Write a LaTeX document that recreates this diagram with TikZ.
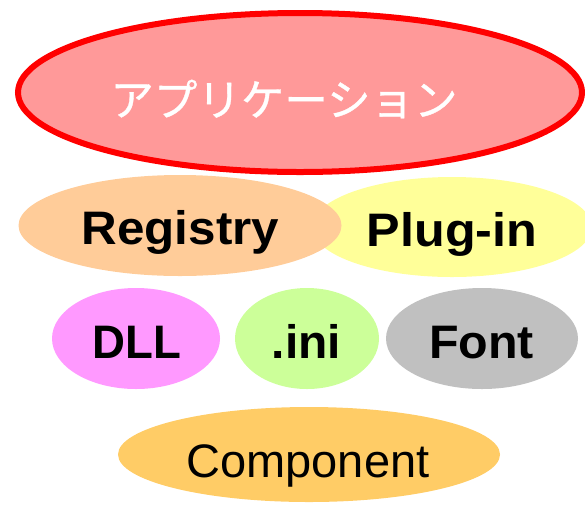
\documentclass[tikz,border=0pt]{standalone}
\usepackage{fontspec}
\setmainfont{Liberation Sans}
\newfontfamily\cjk[FakeBold=0.8]{Noto Sans CJK JP}
\usetikzlibrary{shapes.geometric}
\definecolor{appfill}{HTML}{FF9999}
\definecolor{regfill}{HTML}{FFCC99}
\definecolor{plugfill}{HTML}{FFFF99}
\definecolor{dllfill}{HTML}{FF99FF}
\definecolor{inifill}{HTML}{CCFF99}
\definecolor{fontfill}{HTML}{C0C0C0}
\definecolor{compfill}{HTML}{FFCC66}
\tikzset{
  blob/.style={ellipse, draw=none, inner sep=0pt, outer sep=0pt},
  boldlabel/.style={anchor=base, inner sep=0pt, font=\addfontfeature{FakeStretch=#1}\fontsize{47}{50}\selectfont\bfseries},
  boldlabel/.default=1,
  plainlabel/.style={anchor=base, inner sep=0pt, font=\fontsize{47}{50}\selectfont},
}
\begin{document}
\begin{tikzpicture}[x=1pt,y=-1pt]
\useasboundingbox (0,0) rectangle (585,504);
\clip (0,0) rectangle (585,504);
% Application
\node[blob, draw=red, line width=6pt, fill=appfill, minimum width=564pt, minimum height=159pt] (app) at (300,92.5) {};
\node[anchor=center, inner sep=0pt, text=white, font=\cjk\fontsize{43.5}{46}\selectfont] (appt) at (284,99) {アプリケーション};
% Plug-in, Registry
\node[blob, fill=plugfill, minimum width=280pt, minimum height=100pt] (plug) at (452,227) {};
\node[blob, fill=regfill, minimum width=323pt, minimum height=101pt] (reg) at (180,225.5) {};
\node[boldlabel=1.05] (regt) at (180.5,244) {Registry};
\node[boldlabel=1.07] (plugt) at (452,246) {Plug-in};
% DLL, ini, Font
\node[blob, fill=dllfill, minimum width=168pt, minimum height=101pt] (dll) at (136,338.5) {};
\node[blob, fill=inifill, minimum width=144pt, minimum height=101pt] (ini) at (307,338.5) {};
\node[blob, fill=fontfill, minimum width=192pt, minimum height=101pt] (font) at (482,338.5) {};
\node[boldlabel=0.97] (dllt) at (137,358) {DLL};
\node[boldlabel=1.02] (init) at (306.5,358) {.ini};
\node[boldlabel=1.03] (fontt) at (481.5,358) {Font};
% Component
\node[blob, fill=compfill, minimum width=382pt, minimum height=95pt] (comp) at (309,454.5) {};
\node[plainlabel] (compt) at (308,477) {Component};
\end{tikzpicture}
\end{document}
